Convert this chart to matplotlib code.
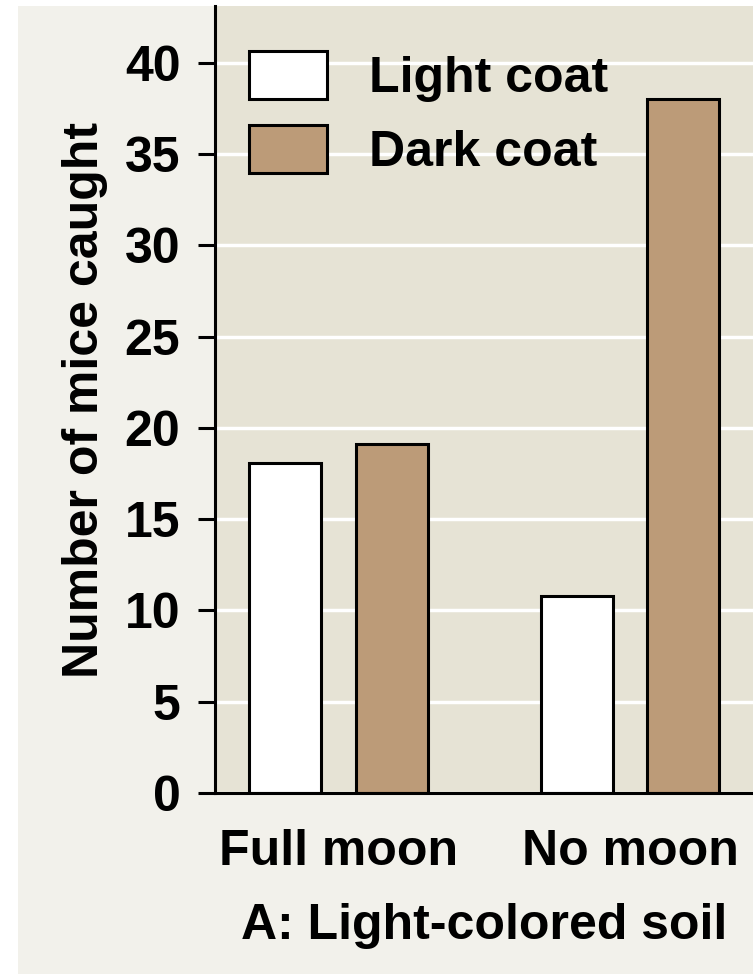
import matplotlib

matplotlib.use("Agg")
import matplotlib.pyplot as plt
import numpy as np
from matplotlib.patches import Rectangle

conditions = ["Full moon", "No moon"]
series = ["Light coat", "Dark coat"]
light_coat = [18.1, 10.8]
dark_coat = [19.1, 38.0]
colors = ["#ffffff", "#bc9b78"]
yticks = [0, 5, 10, 15, 20, 25, 30, 35, 40]

plt.rcParams["font.family"] = ["Liberation Sans", "DejaVu Sans"]
plt.rcParams["font.weight"] = "bold"
FS = 36

fig = plt.figure(figsize=(7.53, 9.74), dpi=100, facecolor="white")
# light outer panel, kept behind the axes
fig.patches.append(Rectangle((18 / 753, 0), 1 - 18 / 753, 1 - 6 / 974,
                             transform=fig.transFigure, facecolor="#f2f1eb",
                             edgecolor="none", zorder=-10))

ax = fig.add_axes([215 / 753, 1 - 793 / 974, 1 - 215 / 753, (793 - 6) / 974])
ax.set_facecolor("#e6e3d5")

x = np.arange(len(conditions))
w = 0.247
off = 0.1835
for vals, name, c, d in zip([light_coat, dark_coat], series, colors, [-off, off]):
    ax.bar(x + d, vals, width=w, color=c, edgecolor="black", linewidth=2.2,
           label=name, zorder=3)

ax.set_ylim(0, 43.12)
ax.set_xlim(-0.424, 1.422)
ax.set_yticks(yticks)
ax.set_xticks(x)
ax.set_xticklabels(conditions)
ax.tick_params(axis="y", length=12, width=2.2, pad=13, labelsize=FS)
ax.tick_params(axis="x", length=0, pad=26, labelsize=FS)
ax.grid(True, axis="y", color="white", linewidth=2.5, zorder=1)
ax.set_axisbelow(True)
for s in ["top", "right"]:
    ax.spines[s].set_visible(False)
for s in ["left", "bottom"]:
    ax.spines[s].set_linewidth(2.2)
    ax.spines[s].set_zorder(5)

ax.set_ylabel("Number of mice caught", fontsize=FS, fontweight="bold", labelpad=12)
ax.set_xlabel("A: Light-colored soil", fontsize=FS, fontweight="bold", labelpad=20)

leg = ax.legend(loc="upper left", bbox_to_anchor=(-0.02, 1.0), frameon=False,
                fontsize=FS, handlelength=1.55, handleheight=1.1,
                handletextpad=0.85, labelspacing=0.45, borderaxespad=0.5)

fig.savefig("out.png", dpi=100, facecolor=fig.get_facecolor())
